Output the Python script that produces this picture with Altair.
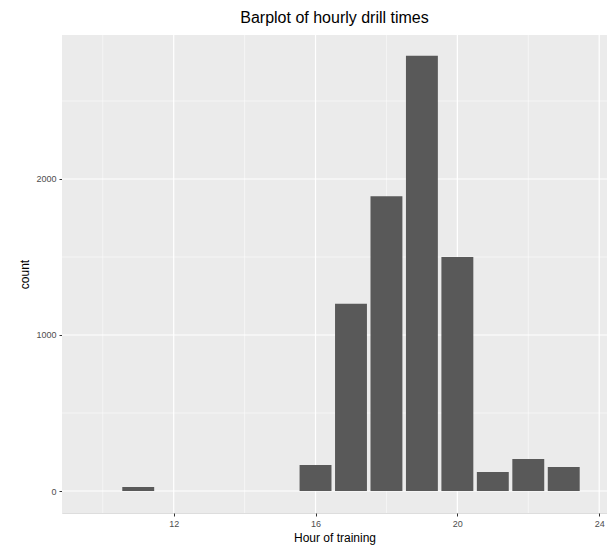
import altair as alt
import pandas as pd

hours = [11, 16, 17, 18, 19, 20, 21, 22, 23]
counts = [25, 167, 1200, 1890, 2790, 1500, 122, 205, 154]
x_minor = [10, 14, 18, 22]
y_minor = [500, 1500, 2500]

W, H = 545, 478
df = pd.DataFrame({"hour": hours, "count": counts})
xs = alt.Scale(domain=[8.85, 24.22], nice=False, zero=False)
ys = alt.Scale(domain=[-141, 2923], nice=False, zero=False)

ax = dict(grid=False, domain=False, tickColor="#333333", tickSize=3, labelColor="#4D4D4D",
          labelFontSize=9, titleFontSize=12, titleFontWeight="normal",
          titleColor="black", labelPadding=3)

bg = alt.Chart(pd.DataFrame({"a": [0]})).mark_rect(color="#EBEBEB").encode(
    x=alt.value(0), x2=alt.value(W), y=alt.value(0), y2=alt.value(H))

xmaj = alt.Chart(pd.DataFrame({"v": [12, 16, 20, 24]})).mark_rule(color="white", strokeWidth=1.2).encode(
    x=alt.X("v:Q", scale=xs, title="Hour of training", axis=alt.Axis(values=[12, 16, 20, 24], **ax)))
ymaj = alt.Chart(pd.DataFrame({"v": [0, 1000, 2000]})).mark_rule(color="white", strokeWidth=1.2).encode(
    y=alt.Y("v:Q", scale=ys, title="count", axis=alt.Axis(values=[0, 1000, 2000], format="d", **ax)))
xm = alt.Chart(pd.DataFrame({"v": x_minor})).mark_rule(color="white", strokeWidth=0.5).encode(
    x=alt.X("v:Q", scale=xs))
ym = alt.Chart(pd.DataFrame({"v": y_minor})).mark_rule(color="white", strokeWidth=0.5).encode(
    y=alt.Y("v:Q", scale=ys))

bars = alt.Chart(df).transform_calculate(
    x0="datum.hour - 0.45", x1="datum.hour + 0.45", y0="0"
).mark_bar(color="#595959").encode(
    x=alt.X("x0:Q", scale=xs), x2="x1:Q",
    y=alt.Y("count:Q", scale=ys), y2="y0:Q",
)

chart = alt.layer(bg, xm, ym, xmaj, ymaj, bars).properties(
    width=W, height=H,
    title=alt.TitleParams("Barplot of hourly drill times", fontSize=16, fontWeight="normal",
                          anchor="middle", color="black", offset=8),
    autosize=alt.AutoSizeParams(type="none"),
    padding={"left": 54, "top": 27, "right": 0, "bottom": 34},
).configure_view(stroke=None).configure(font="Liberation Sans")

chart.save("out.html", embed_options={"renderer": "svg", "actions": False})
